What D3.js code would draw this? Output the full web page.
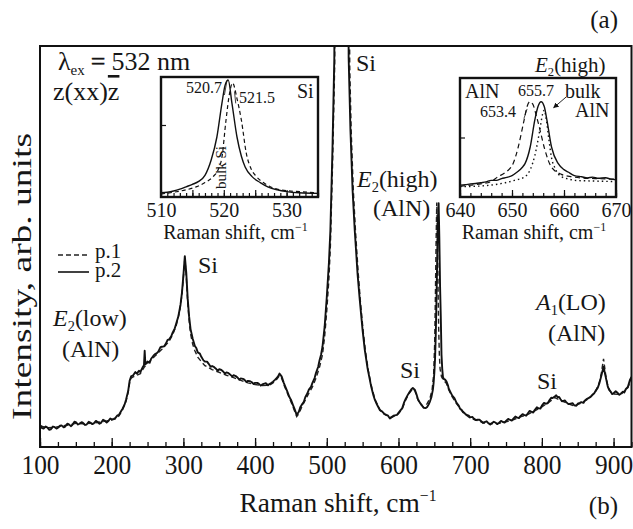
<!DOCTYPE html>
<html><head><meta charset="utf-8">
<script src="https://cdn.jsdelivr.net/npm/d3@7/dist/d3.min.js"></script>
<style>
body{margin:0;background:#fff;}
text{font-family:"Liberation Serif","Times New Roman",Times,serif;fill:#161616;}
</style></head><body>
<svg id="c" width="633" height="529"></svg>
<script>
// ---------------- data ----------------
const mainXDomain = [100, 925];
const mainMajorTicks = [100, 200, 300, 400, 500, 600, 700, 800, 900];
const mainMinorTicks = d3.range(100, 926, 25);

// p.2 (solid) main spectrum [Raman shift, intensity]
const p2 = [[100,5.5],[103,4.7],[105,4.6],[108,5.1],[110,4.9],[113,4.3],[115,4.4],[118,5.1],[120,5.0],[123,4.6],[125,4.8],[128,5.3],[130,5.4],[133,4.9],[135,5.1],[138,5.8],[140,5.7],[143,5.2],[145,5.5],[148,6.3],[150,6.2],[153,5.6],[155,5.8],[158,6.2],[160,6.0],[163,5.5],[165,5.6],[168,6.3],[170,6.1],[173,5.7],[175,5.9],[178,6.5],[180,6.3],[183,5.8],[185,6.0],[188,6.8],[190,6.6],[193,6.1],[195,6.4],[198,7.1],[200,6.9],[203,7.0],[205,7.2],[208,7.9],[210,8.0],[213,8.9],[215,9.5],[218,10.6],[220,11.8],[223,14.0],[225,16.5],[227,17.6],[230,17.9],[233,18.7],[235,18.3],[238,19.0],[240,18.7],[243,19.8],[245,20.4],[246,24.0],[247,20.6],[250,21.3],[253,21.0],[255,22.0],[258,22.7],[260,23.1],[263,23.4],[265,23.8],[268,24.9],[270,25.0],[273,25.1],[275,25.6],[278,26.7],[280,26.8],[283,27.6],[285,28.5],[288,29.6],[290,30.8],[293,32.6],[296,35.5],[298,38.5],[300,42.8],[302,47.6],[304,43.5],[306,37.0],[308,32.5],[310,29.4],[313,27.0],[316,25.2],[318,24.7],[320,23.6],[323,23.3],[325,22.5],[328,21.6],[330,21.3],[333,21.3],[335,20.8],[338,20.0],[340,20.2],[343,19.9],[345,19.6],[348,19.0],[350,19.4],[353,19.2],[355,18.9],[358,18.3],[360,18.6],[363,18.4],[365,18.1],[368,17.6],[370,17.9],[373,17.7],[375,17.4],[378,16.8],[380,17.1],[383,17.0],[385,16.8],[388,16.2],[390,16.5],[393,16.4],[395,16.2],[398,15.7],[400,16.0],[403,16.0],[405,15.8],[408,15.3],[410,15.6],[413,15.8],[415,15.9],[418,15.4],[420,15.7],[423,16.0],[425,16.3],[428,16.8],[430,17.2],[432,17.6],[434,18.3],[437,17.6],[440,16.0],[443,14.7],[445,13.8],[448,12.4],[450,11.8],[453,10.4],[455,9.5],[458,8.0],[461,8.8],[463,9.9],[465,10.5],[468,11.3],[470,12.4],[473,13.4],[475,14.3],[478,15.0],[480,16.0],[483,17.2],[485,18.5],[488,20.0],[490,21.7],[492,23.0],[494,25.0],[497,30.0],[500,37.4],[503,46.0],[505,54.0],[508,75.0],[510.5,97],[520.7,600],[530.5,97],[533,79],[536,64],[539,54],[543,43],[546,36.7],[550,29],[553,24.2],[557,19.5],[560,16.8],[562,15.0],[565,12.9],[567,11.8],[570,10.6],[574,9.2],[577,8.9],[580,8.3],[583,8.0],[585,7.9],[588,7.1],[590,7.4],[593,7.8],[595,7.9],[598,8.0],[600,8.5],[603,9.2],[605,9.6],[608,11.2],[610,12.0],[613,13.0],[615,13.6],[618,14.4],[620,14.7],[623,14.2],[625,13.2],[627,12.0],[630,11.0],[633,10.3],[635,9.8],[638,9.7],[640,10.0],[642,10.6],[644,11.4],[646,12.5],[648,14.3],[649,16.0],[650,18.5],[651,22.0],[652,28.0],[653,36.7],[654,47],[655,57.0],[656,60.8],[657,52.0],[658,40.0],[659,32.5],[660,23.0],[661,19.5],[662,17.5],[663,17.0],[665,16.8],[667,16.3],[669,15.4],[670,14.6],[673,13.5],[675,12.8],[678,12.2],[681,11.0],[684,10.3],[686,9.5],[688,9.3],[690,8.8],[693,8.3],[695,8.0],[698,7.8],[700,7.4],[703,7.5],[705,7.1],[708,6.7],[710,6.8],[713,6.8],[715,6.5],[718,6.0],[720,6.2],[723,6.4],[725,6.0],[728,5.6],[730,5.9],[733,6.3],[735,6.1],[738,5.7],[740,6.0],[743,6.5],[745,6.3],[748,6.1],[750,6.5],[753,7.0],[755,6.8],[758,6.6],[760,7.0],[763,7.6],[765,7.4],[768,7.2],[770,7.7],[773,8.2],[775,8.0],[778,7.8],[780,8.3],[783,9.0],[785,8.8],[788,8.6],[790,9.2],[793,9.9],[795,9.7],[798,9.6],[800,10.3],[803,11.0],[805,10.8],[808,10.9],[810,11.5],[813,12.3],[815,12.2],[818,12.6],[820,12.9],[822,12.4],[824,12.5],[826,11.9],[828,11.4],[830,11.5],[832,11.6],[834,11.2],[837,10.7],[840,10.8],[843,10.9],[845,10.4],[848,10.3],[850,10.8],[853,11.0],[855,11.2],[858,11.0],[860,11.6],[863,12.0],[865,12.2],[868,12.5],[870,12.9],[873,13.4],[875,14.0],[878,14.8],[880,15.8],[883,17.8],[886,20.0],[889,17.5],[892,15.0],[894,14.2],[896,13.8],[898,13.2],[900,13.4],[903,13.9],[905,13.6],[908,13.0],[910,13.3],[913,13.8],[915,13.6],[917,14.4],[920,15.0],[923,16.8],[925,17.5]];

// p.1 (dashed) main spectrum
const p1 = [[100,5.3],[110,4.8],[120,4.9],[130,5.2],[140,5.5],[150,5.9],[160,5.8],[170,5.9],[180,6.1],[190,6.4],[200,6.7],[205,7.0],[210,7.7],[215,9.2],[220,11.4],[223,13.6],[225,16.0],[227,17.2],[230,17.5],[240,18.3],[245,19.8],[250,20.9],[260,22.6],[270,24.4],[280,26.3],[285,28.0],[290,30.3],[295,34.0],[298,38.0],[300,42.3],[302,47.0],[304,42.5],[306,36.0],[308,31.5],[310,28.2],[313,25.6],[316,24.0],[320,22.4],[325,21.3],[330,20.3],[340,19.3],[350,18.6],[360,17.9],[370,17.3],[380,16.6],[390,16.0],[400,15.6],[410,15.3],[420,15.4],[425,16.0],[430,16.8],[434,17.8],[437,17.2],[440,15.6],[445,13.4],[450,11.3],[455,9.0],[458,7.6],[461,8.3],[465,9.9],[470,11.7],[475,13.4],[480,15.0],[485,17.2],[490,20.0],[494,23.0],[497,27.5],[500,34.0],[503,42.0],[505,50.0],[508,70.0],[511,95.0],[521.5,600],[532,95],[534,79],[537,64],[540,54],[544,43],[547,36],[551,28.5],[554,23.8],[558,19],[563,14.6],[568,11.5],[575,9.0],[580,8.2],[590,7.3],[600,8.3],[605,9.4],[610,11.7],[615,13.4],[620,14.5],[623,14.0],[627,11.8],[630,10.8],[635,9.9],[640,10.8],[644,12.2],[647,14.5],[649,18.0],[650.5,26],[651.5,38],[652.5,52],[653.4,61],[654.3,52],[655.2,40],[656,30],[657,23],[658,19.5],[660,17.5],[663,16.6],[667,15.8],[670,14.3],[675,12.5],[681,10.8],[690,8.6],[700,7.2],[710,6.6],[720,6.0],[730,5.8],[740,5.9],[750,6.3],[760,6.8],[770,7.5],[780,8.1],[790,9.0],[800,10.0],[810,11.2],[818,12.3],[826,11.6],[834,11.0],[845,10.2],[855,11.0],[865,12.0],[875,13.9],[880,16.0],[883,18.5],[886,22.0],[889,18.0],[892,15.2],[896,13.7],[900,13.2],[910,13.1],[917,14.2],[920,14.8],[925,17.2]];

// Inset (Si)
const siDomain = [510, 535];
const siTickLabels = [510, 520, 530];
const siSample = [[510,0.036],[511,0.04],[512,0.05],[513,0.065],[514,0.085],[515,0.105],[516,0.13],[517,0.18],[518,0.31],[518.9,0.5],[519.7,0.78],[520.2,0.93],[520.7,0.975],[521.3,0.78],[522.1,0.5],[522.8,0.34],[523.4,0.25],[524.5,0.17],[525.8,0.12],[527,0.085],[528.5,0.06],[530,0.045],[532,0.035],[535,0.03]];
const siBulk = [[510,0.025],[512,0.04],[514,0.06],[515.7,0.086],[517,0.12],[518.3,0.17],[519.2,0.24],[519.7,0.33],[520.35,0.64],[520.9,0.86],[521.4,0.95],[522.1,0.82],[522.8,0.64],[523.6,0.36],[524.3,0.24],[525.2,0.17],[526.3,0.12],[527.4,0.086],[529,0.06],[532.1,0.044],[535,0.035]];

// Inset (AlN E2 high)
const alnDomain = [640, 670];
const alnTickLabels = [640, 650, 660, 670];
const alnP2 = [[640,0.10],[641,0.103],[642,0.11],[643,0.113],[644,0.12],[645,0.127],[646,0.14],[647,0.14],[648,0.155],[649,0.165],[650,0.18],[651,0.21],[652,0.25],[652.5,0.28],[653.5,0.42],[654.4,0.65],[655,0.76],[655.6,0.80],[656.2,0.76],[656.7,0.65],[657.6,0.42],[658.9,0.28],[660,0.23],[660.8,0.21],[662,0.18],[663.4,0.17],[664.5,0.16],[665.5,0.167],[666.6,0.157],[668,0.162],[669,0.15],[670,0.145]];
const alnP1 = [[640,0.09],[642,0.1],[644,0.11],[646,0.13],[647.3,0.17],[648.5,0.2],[650.2,0.28],[651.2,0.42],[652.2,0.62],[652.9,0.76],[653.4,0.80],[654,0.78],[654.7,0.68],[655.4,0.56],[656.3,0.4],[657.6,0.25],[659.5,0.19],[661.5,0.17],[663.4,0.16],[666,0.155],[670,0.15]];
const alnBulk = [[640,0.087],[643,0.09],[646,0.1],[648.7,0.12],[650.5,0.14],[652.5,0.17],[653.5,0.23],[654.4,0.35],[655.3,0.55],[655.9,0.70],[656.2,0.73],[656.6,0.65],[657.1,0.48],[657.6,0.33],[658.3,0.24],[659.5,0.17],[661,0.15],[662,0.14],[665,0.135],[670,0.13]];

// ---------------- drawing ----------------
const svg = d3.select("#c");
const M = {l:40, r:631.5, t:46, b:447};
const x = d3.scaleLinear().domain(mainXDomain).range([M.l, M.r]);
const y = d3.scaleLinear().domain([0,100]).range([M.b, M.t]);

const defs = svg.append("defs");
defs.append("clipPath").attr("id","clipMain").append("rect")
  .attr("x",M.l).attr("y",M.t).attr("width",M.r-M.l).attr("height",M.b-M.t);

const gMain = svg.append("g").attr("clip-path","url(#clipMain)");
const line = d3.line().x(d=>x(d[0])).y(d=>y(d[1]));
gMain.append("path").datum(p1).attr("d",line).attr("fill","none")
  .attr("stroke","#222").attr("stroke-width",1.4).attr("stroke-dasharray","5,3");
gMain.append("path").datum(p2).attr("d",line).attr("fill","none")
  .attr("stroke","#111").attr("stroke-width",1.9).attr("stroke-linejoin","round");

// axes main
const axMinor = d3.axisBottom(x).tickValues(mainMinorTicks).tickSize(-5).tickFormat("");
const axMajor = d3.axisBottom(x).tickValues(mainMajorTicks).tickSize(-9).tickPadding(8).tickFormat(d3.format("d"));
const gx1 = svg.append("g").attr("transform",`translate(0,${M.b})`).call(axMinor);
const gx2 = svg.append("g").attr("transform",`translate(0,${M.b})`).call(axMajor);
[gx1,gx2].forEach(g=>{g.select(".domain").remove(); g.selectAll("line").attr("stroke","#111").attr("stroke-width",1.3);});
gx2.selectAll("text").attr("font-size",27).attr("transform","scale(0.94,1)").attr("fill","#161616");

svg.append("rect").attr("x",M.l).attr("y",M.t).attr("width",M.r-M.l).attr("height",M.b-M.t)
  .attr("fill","none").attr("stroke","#111").attr("stroke-width",2);

// axis titles
const xt = svg.append("text").attr("x",338).attr("y",512).attr("text-anchor","middle").attr("font-size",28)
  .attr("textLength",197).attr("lengthAdjust","spacingAndGlyphs");
xt.append("tspan").text("Raman shift, cm");
xt.append("tspan").text("\u22121").attr("font-size",16).attr("dy",-11);

svg.append("text").attr("transform","translate(31,276.5) rotate(-90)").attr("text-anchor","middle")
  .attr("font-size",27).attr("textLength",287).attr("lengthAdjust","spacingAndGlyphs").text("Intensity, arb. units");

// panel letters
svg.append("text").attr("x",618).attr("y",28).attr("text-anchor","end").attr("font-size",25).text("(a)");
svg.append("text").attr("x",618).attr("y",514).attr("text-anchor","end").attr("font-size",25).text("(b)");

// lambda and geometry
const lam = svg.append("text").attr("x",58).attr("y",70).attr("font-size",26).text("\u03bb");
const lamW = lam.node().getComputedTextLength();
const ex = svg.append("text").attr("x",58+lamW).attr("y",75).attr("font-size",15).text("ex");
const exW = ex.node().getComputedTextLength();
const eq = svg.append("text").attr("x",58+lamW+exW+6).attr("y",70).attr("font-size",26)
  .attr("stroke","#161616").attr("stroke-width",0.4).text("=");
const eqW = eq.node().getComputedTextLength();
svg.append("text").attr("x",58+lamW+exW+6+eqW+6).attr("y",70).attr("font-size",26).text("532 nm");

const zt = svg.append("text").attr("x",53).attr("y",100).attr("font-size",26);
zt.append("tspan").text("z(xx)");
zt.append("tspan").text("z").style("text-decoration","overline");

// helper for labels with subscript
function subLabel(xp, yp, main, sub, rest, fs){
  const t = svg.append("text").attr("x",xp).attr("y",yp).attr("font-size",fs);
  t.append("tspan").text(main).attr("font-style","italic");
  t.append("tspan").text(sub).attr("font-size",fs*0.6).attr("dy",fs*0.2);
  t.append("tspan").text(rest).attr("dy",-fs*0.2);
  return t;
}
function label(xp, yp, s, fs){ return svg.append("text").attr("x",xp).attr("y",yp).attr("font-size",fs).text(s); }

label(356,71,"Si",24);
subLabel(357,187,"E","2","(high)",24);
label(373,216,"(AlN)",24);
label(198,273,"Si",24);
subLabel(53,326,"E","2","(low)",24);
label(62,357,"(AlN)",24);
label(400,378,"Si",24);
subLabel(536,310,"A","1","(LO)",24);
label(548,341,"(AlN)",24);
label(537,389,"Si",24);

// legend
svg.append("line").attr("x1",58).attr("x2",89).attr("y1",255).attr("y2",255)
  .attr("stroke","#222").attr("stroke-width",1.3).attr("stroke-dasharray","5,3");
svg.append("line").attr("x1",58).attr("x2",89).attr("y1",272).attr("y2",272)
  .attr("stroke","#111").attr("stroke-width",1.6);
label(95,258,"p.1",21);
label(95,277,"p.2",21);

// ---------------- insets ----------------
function inset(id, box, domain, tickLabels, minorStep, majorStep, ytick, series){
  const xi = d3.scaleLinear().domain(domain).range([box.l, box.r]);
  const yi = d3.scaleLinear().domain([0,1]).range([box.b, box.t]);
  svg.append("rect").attr("x",box.l).attr("y",box.t).attr("width",box.r-box.l).attr("height",box.b-box.t).attr("fill","#fff");
  defs.append("clipPath").attr("id",id).append("rect")
    .attr("x",box.l).attr("y",box.t).attr("width",box.r-box.l).attr("height",box.b-box.t);
  const g = svg.append("g").attr("clip-path",`url(#${id})`);
  const li = d3.line().curve(d3.curveMonotoneX).x(d=>xi(d[0])).y(d=>yi(d[1]));
  series.forEach(s=>{
    g.append("path").datum(s.data).attr("d",li).attr("fill","none").attr("stroke","#111")
      .attr("stroke-width",s.w).attr("stroke-dasharray",s.dash);
  });
  const minor = d3.range(domain[0], domain[1]+0.001, minorStep);
  const major = d3.range(domain[0], domain[1]+0.001, majorStep);
  const a1 = svg.append("g").attr("transform",`translate(0,${box.b})`)
    .call(d3.axisBottom(xi).tickValues(minor).tickSize(-4).tickFormat(""));
  const a2 = svg.append("g").attr("transform",`translate(0,${box.b})`)
    .call(d3.axisBottom(xi).tickValues(major).tickSize(-7).tickFormat(""));
  const a3 = svg.append("g").attr("transform",`translate(0,${box.b})`)
    .call(d3.axisBottom(xi).tickValues(tickLabels).tickSize(0).tickPadding(6).tickFormat(d3.format("d")));
  const a4 = svg.append("g").attr("transform",`translate(${box.l},0)`)
    .call(d3.axisRight(yi).tickValues([ytick]).tickSize(5).tickFormat(""));
  [a1,a2,a3,a4].forEach(a=>{a.select(".domain").remove(); a.selectAll("line").attr("stroke","#111").attr("stroke-width",1.2);});
  a3.selectAll("text").attr("font-size",20).attr("fill","#161616");
  svg.append("rect").attr("x",box.l).attr("y",box.t).attr("width",box.r-box.l).attr("height",box.b-box.t)
    .attr("fill","none").attr("stroke","#111").attr("stroke-width",2.4);
  const t = svg.append("text").attr("x",(box.l+box.r)/2-4).attr("y",239).attr("text-anchor","middle").attr("font-size",20);
  t.append("tspan").text("Raman shift, cm");
  t.append("tspan").text("\u22121").attr("font-size",12).attr("dy",-8);
  return {xi, yi};
}

const s1 = inset("clipSi", {l:161,r:318,t:77,b:197}, siDomain, siTickLabels, 1, 5, 0.6, [
  {data:siBulk, dash:"4,3", w:1.2},
  {data:siSample, dash:null, w:1.4}
]);
label(186,93,"520.7",16);
label(239,103,"521.5",16);
label(297,98,"Si",20);
svg.append("line").attr("x1",s1.xi(520.1)).attr("y1",s1.yi(0.85)).attr("x2",s1.xi(520.5)).attr("y2",s1.yi(0.97))
  .attr("stroke","#111").attr("stroke-width",0.8);
svg.append("line").attr("x1",s1.xi(521.9)).attr("y1",s1.yi(0.78)).attr("x2",s1.xi(521.7)).attr("y2",s1.yi(0.88))
  .attr("stroke","#111").attr("stroke-width",0.8);
svg.append("text").attr("transform",`translate(${s1.xi(520.3)},189) rotate(-90)`).attr("font-size",15).text("bulk Si");

const s2 = inset("clipAlN", {l:460,r:616,t:78,b:197}, alnDomain, alnTickLabels, 2, 10, 0.5, [
  {data:alnBulk, dash:"1.5,3", w:1.4},
  {data:alnP1, dash:"5,3.5", w:1.2},
  {data:alnP2, dash:null, w:1.4}
]);
subLabel(535,72,"E","2","(high)",21);
label(465,98,"AlN",20);
label(518,96,"655.7",16);
label(480,117,"653.4",16);
label(565,98,"bulk",20);
label(575,117,"AlN",20);
svg.append("line").attr("x1",s2.xi(652.3)).attr("y1",s2.yi(0.66)).attr("x2",s2.xi(652.9)).attr("y2",s2.yi(0.74))
  .attr("stroke","#111").attr("stroke-width",0.8);
defs.append("marker").attr("id","arr").attr("viewBox","0 0 10 10").attr("refX",9).attr("refY",5)
  .attr("markerWidth",6).attr("markerHeight",6).attr("orient","auto")
  .append("path").attr("d","M0,0L10,5L0,10z").attr("fill","#111");
svg.append("line").attr("x1",s2.xi(660.4)).attr("y1",s2.yi(0.84)).attr("x2",s2.xi(658)).attr("y2",s2.yi(0.75))
  .attr("stroke","#111").attr("stroke-width",0.9).attr("marker-end","url(#arr)");
</script>
</body></html>
